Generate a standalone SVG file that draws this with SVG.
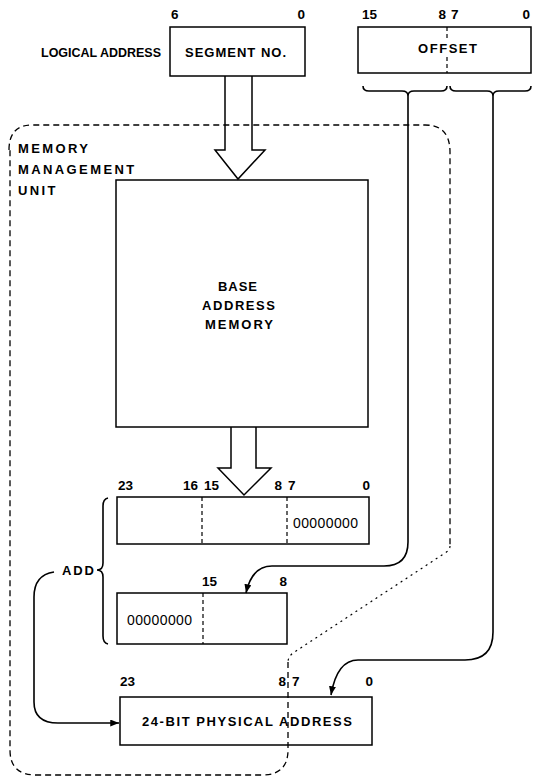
<svg xmlns="http://www.w3.org/2000/svg" width="537" height="779" viewBox="0 0 537 779">
<style>
.bg{fill:#fff}
.box{fill:none;stroke:#000;stroke-width:1.5}
.div{fill:none;stroke:#000;stroke-width:1.2;stroke-dasharray:4 3}
.mmu{fill:none;stroke:#000;stroke-width:1.3;stroke-dasharray:6 4}
.dot{fill:none;stroke:#000;stroke-width:1.2;stroke-dasharray:2 4}
.ln{fill:none;stroke:#000;stroke-width:1.6}
.t{font-family:"Liberation Sans",Arial,sans-serif;font-size:13px;font-weight:bold;fill:#000}
.num{font-family:"Liberation Sans",Arial,sans-serif;font-size:13.5px;font-weight:bold;fill:#000}
.zero{font-family:"Liberation Sans",Arial,sans-serif;font-size:14px;letter-spacing:0.4px;fill:#000}
</style>
<defs>
<marker id="ah" viewBox="0 0 10 8" refX="10" refY="4" markerWidth="9" markerHeight="7" markerUnits="userSpaceOnUse" orient="auto">
<path d="M0,0 L10,4 L0,8 Z" fill="#000"/>
</marker>
</defs>
<rect class="bg" x="0" y="0" width="537" height="779"/>

<g id="mmu">
<path class="mmu" d="M9,150 Q9,125 32,125 H425 Q450,125 450,152 V546"/>
<path class="dot" d="M450,546 Q450,550 445,553 L293,653 Q288,657 288,662"/>
<path class="mmu" d="M288,662 V750 Q288,775 262,775 H36 Q10,775 10,750 V150"/>
<text class="t" x="18" y="153" style="letter-spacing:2.4px">MEMORY</text>
<text class="t" x="18" y="174" style="letter-spacing:2.4px">MANAGEMENT</text>
<text class="t" x="18" y="195" style="letter-spacing:2.4px">UNIT</text>
</g>

<g id="logical-label">
<text class="t" x="41" y="57" style="font-size:12.5px" textLength="120" lengthAdjust="spacingAndGlyphs">LOGICAL ADDRESS</text>
</g>

<g id="segment">
<rect class="box" x="170" y="27" width="135" height="49"/>
<text class="t" x="185" y="57" textLength="101" lengthAdjust="spacing">SEGMENT NO.</text>
<text class="num" x="171" y="19">6</text>
<text class="num" x="305" y="19" text-anchor="end">0</text>
</g>

<g id="offset">
<rect class="box" x="358" y="27" width="173" height="46"/>
<line class="div" x1="447" y1="27" x2="447" y2="41"/>
<line class="div" x1="447" y1="57" x2="447" y2="73"/>
<text class="t" x="418" y="53" textLength="59" lengthAdjust="spacing">OFFSET</text>
<text class="num" x="362" y="19">15</text>
<text class="num" x="446" y="19" text-anchor="end">8</text>
<text class="num" x="451" y="19">7</text>
<text class="num" x="530" y="19" text-anchor="end">0</text>
<path class="ln" d="M363,86 Q363,91 369,91 L402,91 Q408,91 408,96 Q408,91 414,91 L441,91 Q447,91 447,86"/>
<path class="ln" d="M450,86 Q450,91 456,91 L487,91 Q493,91 493,96 Q493,91 499,91 L525,91 Q531,91 531,86"/>
</g>

<g id="base-memory">
<rect class="box" x="116" y="180" width="252" height="247"/>
<text class="t" x="218" y="291" textLength="39" lengthAdjust="spacing">BASE</text>
<text class="t" x="202" y="310" textLength="73" lengthAdjust="spacing">ADDRESS</text>
<text class="t" x="205" y="329" textLength="68" lengthAdjust="spacing">MEMORY</text>
</g>

<g id="base-register">
<rect class="box" x="117" y="497" width="252" height="47"/>
<line class="div" x1="202" y1="497" x2="202" y2="544"/>
<line class="div" x1="287" y1="497" x2="287" y2="544"/>
<text class="zero" x="293" y="528">00000000</text>
<text class="num" x="118" y="490">23</text>
<text class="num" x="183" y="490">16</text>
<text class="num" x="204" y="490">15</text>
<text class="num" x="282" y="490" text-anchor="end">8</text>
<text class="num" x="288" y="490">7</text>
<text class="num" x="370" y="490" text-anchor="end">0</text>
</g>

<g id="offset-register">
<rect class="box" x="117" y="593" width="170" height="51"/>
<line class="div" x1="203" y1="593" x2="203" y2="644"/>
<text class="zero" x="127" y="625">00000000</text>
<text class="num" x="202" y="586">15</text>
<text class="num" x="287" y="586" text-anchor="end">8</text>
</g>

<g id="add-label">
<text class="t" x="62" y="575" textLength="32" lengthAdjust="spacing">ADD</text>
<path class="ln" d="M108,498 Q103,499 103,506 L103,563 Q103,570 97,570 Q103,570 103,577 L103,636 Q103,643 108,644"/>
</g>

<g id="physical">
<rect class="box" x="120" y="697" width="252" height="48"/>
<text class="t" x="142" y="726" textLength="210" lengthAdjust="spacing">24-BIT PHYSICAL ADDRESS</text>
<text class="num" x="120" y="686">23</text>
<text class="num" x="286" y="686" text-anchor="end">8</text>
<text class="num" x="292" y="686">7</text>
<text class="num" x="373" y="686" text-anchor="end">0</text>
</g>

<g id="connectors">
<path class="box" d="M225,76 V150 H215 L238,179 L265,150 H252 V76"/>
<path class="box" d="M231,427 V468 H218 L244,495 L271,468 H256 V427"/>
<path class="ln" marker-end="url(#ah)" d="M408,96 V542 Q408,566 384,566 H272 Q252,566 246,593"/>
<path class="ln" marker-end="url(#ah)" d="M493,96 V632 Q493,660 465,660 H358 Q337,660 331,695"/>
<path class="ln" marker-end="url(#ah)" d="M54,572 Q34,575 34,597 V702 Q34,723 58,723 H119"/>
</g>
</svg>
